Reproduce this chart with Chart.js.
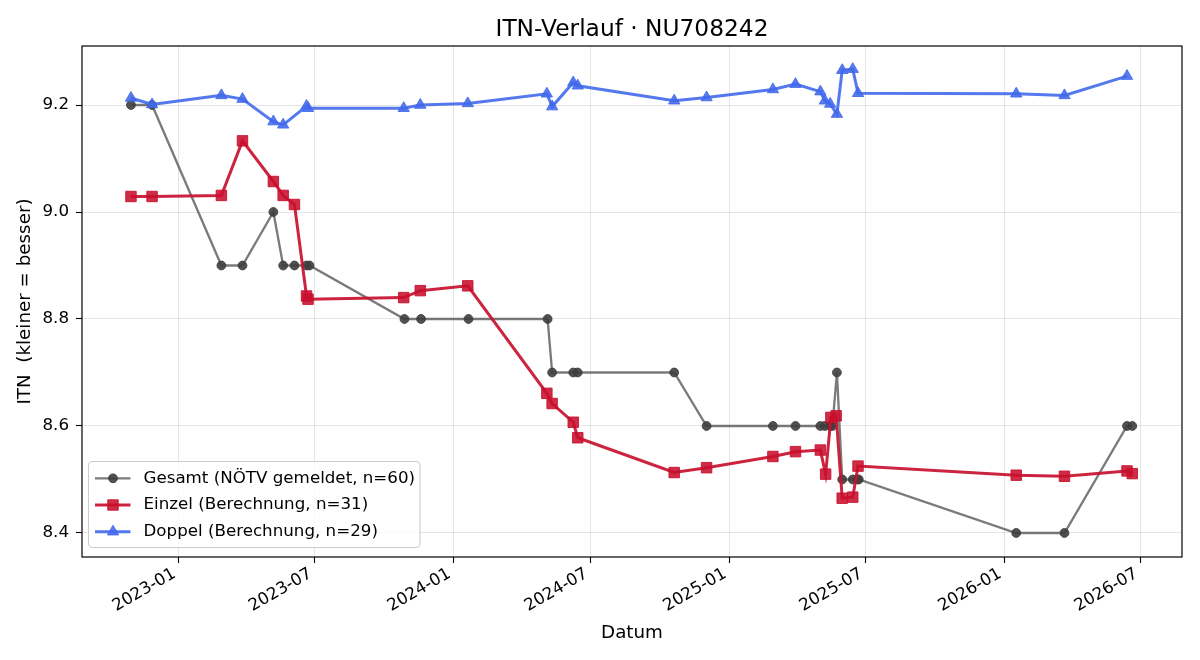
<!DOCTYPE html>
<html>
<head>
<meta charset="utf-8">
<title>ITN-Verlauf · NU708242</title>
<script src="https://cdn.jsdelivr.net/npm/chart.js@4.4.1/dist/chart.umd.min.js"></script>
<style>
  html, body { margin: 0; padding: 0; background: #fff; }
  #wrap { width: 1200px; height: 660px; }
</style>
</head>
<body>
<div id="wrap"><canvas id="itn" width="1200" height="660"></canvas></div>
<script>
'use strict';

// ---- data ----
const gesamtDates = [
  '2022-10-30', '2022-11-27', '2023-02-27', '2023-03-27', '2023-05-07', '2023-05-20',
  '2023-06-04', '2023-06-20', '2023-06-24', '2023-10-28', '2023-11-19', '2024-01-21',
  '2024-05-05', '2024-05-11', '2024-06-08', '2024-06-14', '2024-10-20', '2024-12-02',
  '2025-02-28', '2025-03-30', '2025-05-02', '2025-05-08', '2025-05-15', '2025-05-18',
  '2025-05-24', '2025-05-31', '2025-06-14', '2025-06-20', '2025-06-22', '2026-01-17',
  '2026-03-22', '2026-06-13', '2026-06-20'
];
const gesamtItn = [
  9.2, 9.2, 8.9, 8.9, 9.0, 8.9,
  8.9, 8.9, 8.9, 8.8, 8.8, 8.8,
  8.8, 8.7, 8.7, 8.7, 8.7, 8.6,
  8.6, 8.6, 8.6, 8.6, 8.6, 8.6,
  8.7, 8.5, 8.5, 8.5, 8.5, 8.4,
  8.4, 8.6, 8.6
];

const einzelDates = [
  '2022-10-30', '2022-11-27', '2023-02-27', '2023-03-27', '2023-05-07', '2023-05-20',
  '2023-06-04', '2023-06-20', '2023-06-22', '2023-10-27', '2023-11-18', '2024-01-20',
  '2024-05-04', '2024-05-11', '2024-06-08', '2024-06-14', '2024-10-20', '2024-12-02',
  '2025-02-28', '2025-03-30', '2025-05-02', '2025-05-09', '2025-05-16', '2025-05-23',
  '2025-05-31', '2025-06-14', '2025-06-21', '2026-01-17', '2026-03-22', '2026-06-13',
  '2026-06-20'
];
const einzelItn = [
  9.029, 9.029, 9.031, 9.133, 9.057, 9.031,
  9.014, 8.843, 8.837, 8.840, 8.853, 8.862,
  8.661, 8.642, 8.607, 8.578, 8.513, 8.522,
  8.543, 8.552, 8.555, 8.510, 8.616, 8.619,
  8.465, 8.467, 8.525, 8.508, 8.506, 8.516,
  8.511
];

const doppelDates = [
  '2022-10-30', '2022-11-27', '2023-02-27', '2023-03-27', '2023-05-07', '2023-05-20',
  '2023-06-20', '2023-06-22', '2023-10-27', '2023-11-18', '2024-01-20', '2024-05-04',
  '2024-05-11', '2024-06-08', '2024-06-14', '2024-10-20', '2024-12-02', '2025-02-28',
  '2025-03-30', '2025-05-02', '2025-05-08', '2025-05-15', '2025-05-24', '2025-05-31',
  '2025-06-14', '2025-06-21', '2026-01-17', '2026-03-22', '2026-06-13'
];
const doppelItn = [
  9.213, 9.201, 9.218, 9.211, 9.169, 9.163,
  9.198, 9.194, 9.194, 9.200, 9.203, 9.221,
  9.197, 9.242, 9.236, 9.208, 9.214, 9.229,
  9.239, 9.225, 9.208, 9.202, 9.183, 9.265,
  9.267, 9.222, 9.221, 9.218, 9.254
];

const xTickDates = [
  '2023-01-01', '2023-07-01', '2024-01-01', '2024-07-01',
  '2025-01-01', '2025-07-01', '2026-01-01', '2026-07-01'
];
const yTicks = [8.4, 8.6, 8.8, 9.0, 9.2];
const xRange = ['2022-08-26', '2026-08-25'];
const yRange = [8.3551, 9.3103];

const TITLE = 'ITN-Verlauf · NU708242';
const FONT = "'DejaVu Sans', 'Liberation Sans', sans-serif";
const FS = 16.7;      // tick + legend text
const FS_LABEL = 18.3; // axis titles

const toPoints = (dates, vals) => dates.map((d, i) => ({ x: Date.parse(d), y: vals[i] }));
const fmtMonth = ts => {
  const d = new Date(ts);
  return d.getUTCFullYear() + '-' + String(d.getUTCMonth() + 1).padStart(2, '0');
};

// box around the axes + title centred over the plot
const frameAndTitle = {
  id: 'frameAndTitle',
  afterDatasetsDraw(chart) {
    const { ctx, chartArea: a } = chart;
    ctx.save();
    ctx.strokeStyle = '#000';
    ctx.lineWidth = 1.2;
    ctx.strokeRect(a.left, a.top, a.right - a.left, a.bottom - a.top);
    ctx.fillStyle = '#000';
    ctx.font = `23.3px ${FONT}`;
    ctx.textAlign = 'center';
    ctx.textBaseline = 'alphabetic';
    ctx.fillText(TITLE, (a.left + a.right) / 2, a.top - 10.5);
    ctx.restore();
  }
};

// matplotlib-like legend in the lower left of the plot
const innerLegend = {
  id: 'innerLegend',
  afterDraw(chart) {
    const { ctx, chartArea: a } = chart;
    const x0 = a.left + 6.5, y0 = a.bottom - 95.5;
    ctx.save();
    ctx.beginPath();
    ctx.roundRect(x0, y0, 331.5, 86, 4);
    ctx.fillStyle = 'rgba(255,255,255,0.8)';
    ctx.fill();
    ctx.strokeStyle = '#cccccc';
    ctx.lineWidth = 1.1;
    ctx.stroke();

    chart.data.datasets.forEach((ds, i) => {
      const cy = y0 + 16.8 + i * 26.7;
      ctx.beginPath();
      ctx.strokeStyle = ds.borderColor;
      ctx.lineWidth = ds.borderWidth;
      ctx.moveTo(x0 + 6.5, cy);
      ctx.lineTo(x0 + 42, cy);
      ctx.stroke();
      ctx.fillStyle = ds.pointBackgroundColor;
      ctx.strokeStyle = ds.pointBorderColor;
      ctx.lineWidth = ds.pointBorderWidth;
      Chart.helpers.drawPoint(ctx, {
        pointStyle: ds.pointStyle, radius: ds.pointRadius, rotation: 0, borderWidth: ds.pointBorderWidth
      }, x0 + 24.5, cy);
      ctx.fillStyle = '#000';
      ctx.font = `${FS}px ${FONT}`;
      ctx.textAlign = 'left';
      ctx.textBaseline = 'middle';
      ctx.fillText(ds.label, x0 + 55, cy);
    });
    ctx.restore();
  }
};

const gridOpts = {
  color: 'rgba(0,0,0,0.1)',
  lineWidth: 1,
  tickColor: '#000',
  tickLength: 6,
  tickWidth: 1.1
};

new Chart(document.getElementById('itn'), {
  type: 'line',
  data: {
    datasets: [
      {
        label: 'Gesamt (NÖTV gemeldet, n=60)',
        data: toPoints(gesamtDates, gesamtItn),
        borderColor: 'rgba(70,70,70,0.72)',
        borderWidth: 2.3,
        pointStyle: 'circle',
        pointRadius: 4.4,
        pointBackgroundColor: 'rgba(62,62,62,0.9)',
        pointBorderColor: 'rgba(62,62,62,0.9)',
        pointBorderWidth: 1,
        tension: 0,
        order: 3
      },
      {
        label: 'Einzel (Berechnung, n=31)',
        data: toPoints(einzelDates, einzelItn),
        borderColor: 'rgba(200,16,46,0.92)',
        borderWidth: 3,
        pointStyle: 'rect',
        pointRadius: 7.4,
        pointBackgroundColor: 'rgba(200,16,46,0.88)',
        pointBorderColor: 'rgba(200,16,46,0.88)',
        pointBorderWidth: 1,
        tension: 0,
        order: 2
      },
      {
        label: 'Doppel (Berechnung, n=29)',
        data: toPoints(doppelDates, doppelItn),
        borderColor: 'rgba(65,105,235,0.9)',
        borderWidth: 3,
        pointStyle: 'triangle',
        pointRadius: 6.5,
        pointBackgroundColor: 'rgba(65,105,235,0.88)',
        pointBorderColor: 'rgba(65,105,235,0.88)',
        pointBorderWidth: 1,
        tension: 0,
        order: 1
      }
    ]
  },
  options: {
    responsive: false,
    animation: false,
    events: [],
    layout: { padding: { left: 0, right: 18, top: 46, bottom: 0 } },
    plugins: {
      legend: { display: false },
      tooltip: { enabled: false },
      title: { display: false }
    },
    scales: {
      x: {
        type: 'linear',
        min: Date.parse(xRange[0]),
        max: Date.parse(xRange[1]),
        afterBuildTicks: s => { s.ticks = xTickDates.map(d => ({ value: Date.parse(d) })); },
        afterFit: s => { s.height = 103; },
        grid: gridOpts,
        border: { display: false },
        ticks: {
          callback: v => fmtMonth(v),
          autoSkip: false,
          minRotation: 30,
          maxRotation: 30,
          padding: 1,
          labelOffset: -4,
          color: '#000',
          font: { family: FONT, size: FS }
        },
        title: {
          display: true,
          text: 'Datum',
          color: '#000',
          font: { family: FONT, size: FS_LABEL },
          padding: { top: 0, bottom: 16 }
        }
      },
      y: {
        type: 'linear',
        min: yRange[0],
        max: yRange[1],
        afterBuildTicks: s => { s.ticks = yTicks.map(v => ({ value: v })); },
        afterFit: s => { s.width = 82; },
        grid: gridOpts,
        border: { display: false },
        ticks: {
          callback: v => v.toFixed(1),
          padding: 7,
          color: '#000',
          font: { family: FONT, size: FS }
        },
        title: {
          display: true,
          text: 'ITN  (kleiner = besser)',
          color: '#000',
          font: { family: FONT, size: FS_LABEL },
          padding: { top: 14, bottom: 0 }
        }
      }
    }
  },
  plugins: [frameAndTitle, innerLegend]
});
</script>
</body>
</html>
